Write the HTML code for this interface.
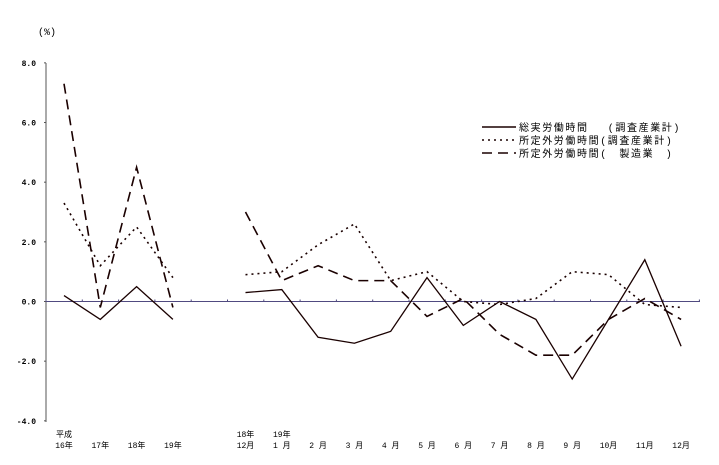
<!DOCTYPE html>
<html><head><meta charset="utf-8"><style>
body{margin:0;background:#fff;width:719px;height:465px;overflow:hidden;}
svg{display:block;font-family:"Liberation Mono","Noto Sans CJK JP",monospace;}
</style></head><body>
<svg id="chart" width="719" height="465" viewBox="0 0 719 465"></svg>
<script>
const categories=["平成16年","17年","18年","19年","","18年12月","19年1月","2月","3月","4月","5月","6月","7月","8月","9月","10月","11月","12月"];
const totalHours=[0.2,-0.6,0.5,-0.6,null,0.3,0.4,-1.2,-1.4,-1.0,0.8,-0.8,0.0,-0.6,-2.6,-0.6,1.4,-1.5];
const overtimeAll=[3.3,1.2,2.5,0.8,null,0.9,1.0,1.9,2.6,0.7,1.0,0.0,-0.1,0.1,1.0,0.9,-0.1,-0.2];
const overtimeMfg=[7.3,-0.2,4.5,-0.2,null,3.0,0.7,1.2,0.7,0.7,-0.5,0.1,-1.1,-1.8,-1.8,-0.6,0.1,-0.6];
const yTicks=[8,6,4,2,0,-2,-4];
const xTop=["平成","","","","","18年","19年","","","","","","","","","","",""];
const xBottom=["16年","17年","18年","19年","","12月","1 月","2 月","3 月","4 月","5 月","6 月","7 月","8 月","9 月","10月","11月","12月"];

const NS="http://www.w3.org/2000/svg";
const svg=document.getElementById('chart');
const X=i=>64+36.3*i;
const Y=v=>301.5-v*29.83;
function el(t,a){const e=document.createElementNS(NS,t);for(const k in a)e.setAttribute(k,a[k]);svg.appendChild(e);return e;}
let t=el('text',{x:38,y:35,'font-size':10,fill:'#000'});t.textContent='(%)';


let ax=el('line',{x1:46,y1:63,x2:46,y2:422,stroke:'#555','stroke-width':1});


yTicks.forEach(v=>{
  const l=el('line',{x1:44,x2:46,y1:Y(v),y2:Y(v),stroke:'#555'});
  
  
  const tx=el('text',{x:36,y:Y(v)+3,'font-size':8,'text-anchor':'end',fill:'#000','font-weight':'bold'});
  tx.textContent=v.toFixed(1);
  
  
});
let z=el('line',{x1:46,x2:700,y1:Y(0),y2:Y(0),stroke:'#504a80','stroke-width':1});


for(let i=0;i<=18;i++){const l=el('line',{x1:X(i)-18,x2:X(i)-18,y1:Y(0),y2:Y(0)-2,stroke:'#504a80'});

}
xBottom.forEach((s,i)=>{
  if(s){const tx=el('text',{x:X(i),y:448,'font-size':8,'text-anchor':'middle',fill:'#000'});tx.textContent=s;
  
  }
  if(xTop[i]){const tx=el('text',{x:X(i),y:437,'font-size':8,'text-anchor':'middle',fill:'#000'});tx.textContent=xTop[i];
  
  }
});
function series(data,dash,w,name){
  let segs=[],cur=[];
  data.forEach((v,i)=>{if(v===null){if(cur.length)segs.push(cur);cur=[];}else cur.push(X(i)+','+Y(v));});
  if(cur.length)segs.push(cur);
  segs.forEach(s=>{const p=el('polyline',{points:s.join(' '),fill:'none',stroke:'#1a0000','stroke-width':w,'stroke-dasharray':dash});
  
  });
}
series(totalHours,'none',1.3,'series-total-hours');
series(overtimeAll,'2,4',1.6,'series-overtime-all');
series(overtimeMfg,'10,6',1.6,'series-overtime-manufacturing');
const legend=[["総実労働時間　 (調査産業計)",'none'],["所定外労働時間(調査産業計)",'2,4'],["所定外労働時間(　製造業　)",'10,6']];
legend.forEach((d,i)=>{
  const y=127+i*13;
  const l=el('line',{x1:482,x2:516,y1:y,y2:y,stroke:'#1a0000','stroke-width':1.5,'stroke-dasharray':d[1]});
  
  
  const tx=el('text',{x:519,y:y+4,'font-size':10,fill:'#000','letter-spacing':'1.6'});tx.textContent=d[0];
  
  
});
</script>
</body></html>
